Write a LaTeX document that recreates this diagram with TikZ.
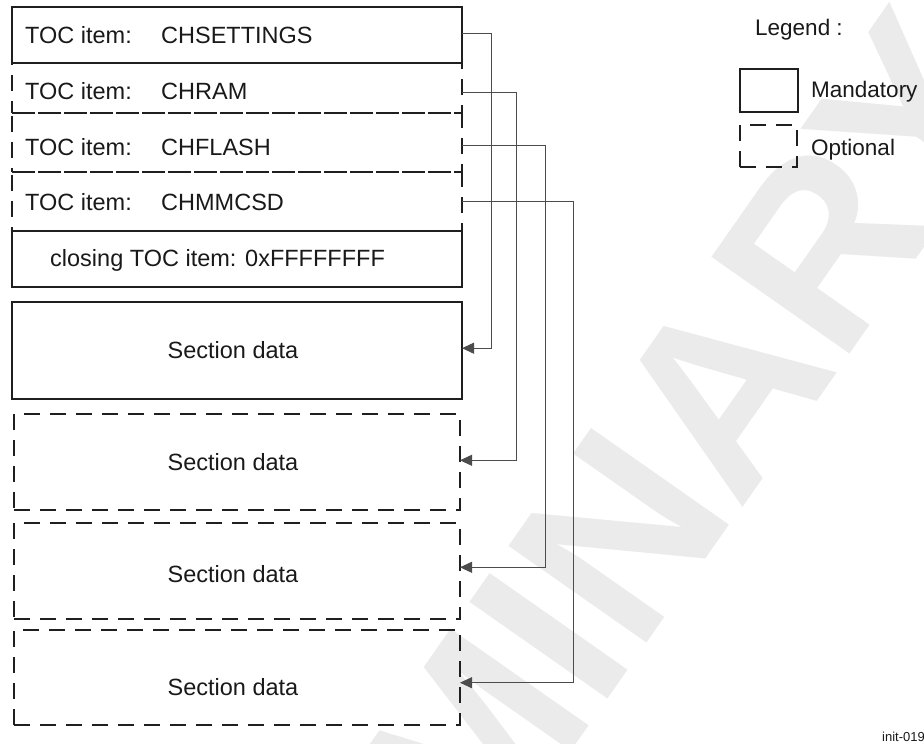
\documentclass[tikz,border=0pt]{standalone}
\usepackage{fontspec}
\setmainfont{Liberation Sans}
\usetikzlibrary{arrows.meta}
\begin{document}
\begin{tikzpicture}[x=1pt,y=1pt,
  solidbox/.style={draw=black!88, line width=2.7pt, inner sep=0pt, outer sep=0pt, anchor=north west},
  optbox/.style={solidbox, line width=2.5pt, dash pattern=on 16pt off 10pt},
  txt/.style={font=\fontsize{23.5}{28}\selectfont, inner sep=0pt, anchor=base west, text=black!90},
  legtxt/.style={txt, font=\fontsize{22.5}{27}\selectfont},
  conn/.style={draw=black!70, line width=0.9pt, -{Triangle[length=12pt,width=11pt]}},
  wmark/.style={text=black!8, font=\fontsize{245}{245}\selectfont\bfseries, inner sep=0pt}
]
\useasboundingbox (0,0) rectangle (924,-744);
% watermark
\node[wmark, rotate=55] (wm) at (480,-735) {PRELIMINARY};

% TOC items (optional ones first, mandatory drawn on top)
\node[optbox, minimum width=450pt, minimum height=50pt] (t2) at (12,-63) {};
\node[optbox, minimum width=450pt, minimum height=59pt] (t3) at (12,-113) {};
\node[optbox, minimum width=450pt, minimum height=59pt] (t4) at (12,-172) {};
\node[solidbox, minimum width=450pt, minimum height=56pt] (t1) at (12,-7) {};
\node[solidbox, minimum width=450pt, minimum height=56pt] (t5) at (12,-231) {};

\node[txt] (l1a) at (25,-43) {TOC item:};
\node[txt] (l1b) at (161,-43) {CHSETTINGS};
\node[txt] (l2a) at (25,-99) {TOC item:};
\node[txt] (l2b) at (161,-99) {CHRAM};
\node[txt] (l3a) at (25,-155) {TOC item:};
\node[txt] (l3b) at (161,-155) {CHFLASH};
\node[txt] (l4a) at (25,-210.7) {TOC item:};
\node[txt] (l4b) at (161,-210.7) {CHMMCSD};
\node[txt] (l5) at (50,-266.7) {closing TOC item: 0xFFFFFFFF};

% Section data boxes
\node[solidbox, minimum width=450pt, minimum height=97pt] (s1) at (12,-302) {};
\node[optbox, minimum width=446pt, minimum height=96pt] (s2) at (14,-414) {};
\node[optbox, minimum width=446pt, minimum height=96pt] (s3) at (14,-523) {};
\node[optbox, minimum width=446pt, minimum height=95pt] (s4) at (14,-630) {};

\node[txt, anchor=base] (d1) at (233,-358) {Section data};
\node[txt, anchor=base] (d2) at (233,-470) {Section data};
\node[txt, anchor=base] (d3) at (233,-582.7) {Section data};
\node[txt, anchor=base] (d4) at (233,-695) {Section data};

% connectors
\draw[conn] ([yshift=1.3pt]t1.east) -- ++(29,0) |- ([yshift=2.3pt]s1.east);
\draw[conn] ([yshift=-4.3pt]t2.east) -- ++(54.7,0) |- ([yshift=1.7pt]s2.east);
\draw[conn] ([yshift=-2.5pt]t3.east) -- ++(83.7,0) |- ([yshift=3.7pt]s3.east);
\draw[conn] (t4.east) -- ++(111.3,0) |- ([yshift=-5.2pt]s4.east);

% legend
\node[legtxt] (lg) at (755,-35) {Legend :};
\node[solidbox, minimum width=58pt, minimum height=43pt] (lm) at (740,-69) {};
\node[optbox, minimum width=57pt, minimum height=42pt] (lo) at (740,-125) {};
\node[legtxt] (lmt) at (811,-97.7) {Mandatory};
\node[legtxt] (lot) at (811,-155) {Optional};

% figure id
\node[font=\fontsize{13}{15}\selectfont, inner sep=0pt, anchor=base west, text=black!90] (fid) at (882,-741) {init-019};
\end{tikzpicture}
\end{document}
